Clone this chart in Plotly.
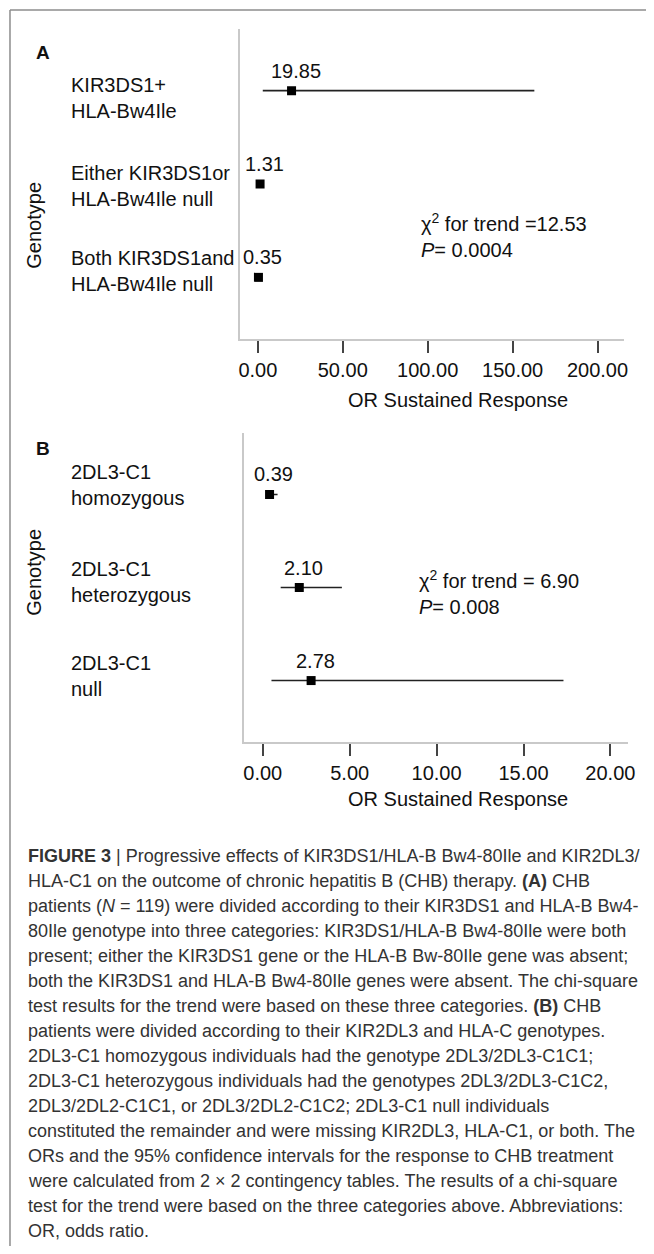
import plotly.graph_objects as go

# ---------------- data ----------------
a_labels = ["KIR3DS1+<br>HLA-Bw4Ile", "Either KIR3DS1or<br>HLA-Bw4Ile null", "Both KIR3DS1and<br>HLA-Bw4Ile null"]
a_or = [19.85, 1.31, 0.35]
a_ci_low = [2.9, 0.6, 0.05]
a_ci_high = [162.8, 2.9, 2.4]
a_tickvals = [0, 50, 100, 150, 200]
a_ticktext = ["0.00", "50.00", "100.00", "150.00", "200.00"]
a_stat = "χ<sup>2</sup> for trend =12.53<br><i>P</i>= 0.0004"

b_labels = ["2DL3-C1<br>homozygous", "2DL3-C1<br>heterozygous", "2DL3-C1<br>null"]
b_or = [0.39, 2.10, 2.78]
b_ci_low = [0.18, 1.03, 0.50]
b_ci_high = [0.85, 4.55, 17.3]
b_tickvals = [0, 5, 10, 15, 20]
b_ticktext = ["0.00", "5.00", "10.00", "15.00", "20.00"]
b_stat = "χ<sup>2</sup> for trend = 6.90<br><i>P</i>= 0.008"

x_title = "OR Sustained Response"
y_title = "Genotype"

caption_lines = [
    "<b>FIGURE 3</b> | Progressive effects of KIR3DS1/HLA-B Bw4-80Ile and KIR2DL3/",
    "HLA-C1 on the outcome of chronic hepatitis B (CHB) therapy. <b>(A)</b> CHB",
    "patients (<i>N</i> = 119) were divided according to their KIR3DS1 and HLA-B Bw4-",
    "80Ile genotype into three categories: KIR3DS1/HLA-B Bw4-80Ile were both",
    "present; either the KIR3DS1 gene or the HLA-B Bw-80Ile gene was absent;",
    "both the KIR3DS1 and HLA-B Bw4-80Ile genes were absent. The chi-square",
    "test results for the trend were based on these three categories. <b>(B)</b> CHB",
    "patients were divided according to their KIR2DL3 and HLA-C genotypes.",
    "2DL3-C1 homozygous individuals had the genotype 2DL3/2DL3-C1C1;",
    "2DL3-C1 heterozygous individuals had the genotypes 2DL3/2DL3-C1C2,",
    "2DL3/2DL2-C1C1, or 2DL3/2DL2-C1C2; 2DL3-C1 null individuals",
    "constituted the remainder and were missing KIR2DL3, HLA-C1, or both. The",
    "ORs and the 95% confidence intervals for the response to CHB treatment",
    "were calculated from 2 × 2 contingency tables. The results of a chi-square",
    "test for the trend were based on the three categories above. Abbreviations:",
    "OR, odds ratio.",
]

# ---------------- layout helpers (page pixels -> paper) ----------------
OFF = 8
FW, FH = 638, 1238


def px(x):
    return (x - OFF) / FW


def py(y):
    return 1 - (y - OFF) / FH


FONT = "Liberation Sans, Arial, sans-serif"
rows = [0, 1, 2]

fig = go.Figure()


def add_panel(xref, yref, ors, lo, hi):
    fig.add_trace(go.Scatter(
        x=ors, y=rows, mode="markers",
        marker=dict(symbol="square", size=9, color="black"),
        error_x=dict(type="data", symmetric=False,
                     array=[h - o for h, o in zip(hi, ors)],
                     arrayminus=[o - l for o, l in zip(ors, lo)],
                     color="#222222", thickness=1.6, width=0),
        xaxis=xref, yaxis=yref, showlegend=False, hoverinfo="skip",
    ))


add_panel("x", "y", a_or, a_ci_low, a_ci_high)
add_panel("x2", "y2", b_or, b_ci_low, b_ci_high)

axis_common = dict(showline=True, linecolor="#c9c9c9", linewidth=2, showgrid=False,
                   zeroline=False, ticks="outside", ticklen=12, tickwidth=1.5,
                   tickcolor="#444444", tickfont=dict(family=FONT, size=20, color="#111111"))
yaxis_common = dict(showline=True, linecolor="#c9c9c9", linewidth=2, showgrid=False,
                    zeroline=False, showticklabels=False, ticks="", range=[2.66, -0.66])

fig.update_layout(
    width=FW, height=FH, margin=dict(l=0, r=0, t=0, b=0),
    paper_bgcolor="white", plot_bgcolor="white",
    xaxis=dict(domain=[px(242), px(631)], range=[-10.47, 215.7],
               tickvals=a_tickvals, ticktext=a_ticktext, anchor="y", **axis_common),
    yaxis=dict(domain=[py(339), py(29)], anchor="x", **yaxis_common),
    xaxis2=dict(domain=[px(246), px(635)], range=[-1.08, 21.02],
                tickvals=b_tickvals, ticktext=b_ticktext, anchor="y2", **axis_common),
    yaxis2=dict(domain=[py(742), py(433)], anchor="x2", **yaxis_common),
)

ann = []


def txt(x, y, s, size=20, xanchor="left", yanchor="middle", **kw):
    ann.append(dict(x=px(x), y=py(y), xref="paper", yref="paper", text=s,
                    showarrow=False, xanchor=xanchor, yanchor=yanchor,
                    font=dict(family=kw.pop("family", FONT), size=size,
                              color=kw.pop("color", "#111111")), **kw))


# panel letters
txt(42, 53, "<b>A</b>", size=19, xanchor="center")
txt(42, 448, "<b>B</b>", size=19, xanchor="center")

# y titles
txt(33, 225, y_title, xanchor="center", textangle=-90)
txt(33, 572, y_title, xanchor="center", textangle=-90)

# x titles
txt(463, 400, x_title, xanchor="center")
txt(463, 799, x_title, xanchor="center")

# category labels
for lab, yc in zip(a_labels, [98, 186, 271]):
    txt(69, yc, lab, align="left")
for lab, yc in zip(b_labels, [485, 582, 676]):
    txt(69, yc, lab, align="left")

# value labels above markers
for xr, yr, vals in (("x", "y", a_or), ("x2", "y2", b_or)):
    for v, r in zip(vals, rows):
        ann.append(dict(x=v, y=r, xref=xr, yref=yr, text=f"{v:.2f}", showarrow=False,
                        xanchor="center", yanchor="middle", yshift=20, xshift=4,
                        font=dict(family=FONT, size=20, color="#111111")))

# statistics
txt(423, 235, a_stat, align="left")
txt(421, 592, b_stat, align="left")

# caption
for i, line in enumerate(caption_lines):
    txt(25, 856 + i * 25.0, line, size=18, color="#333333")

fig.update_layout(annotations=ann)

# frame
fig.add_shape(type="line", xref="paper", yref="paper", x0=px(9), x1=px(9), y0=py(10), y1=py(1254),
              line=dict(color="#8c8c8c", width=1.5))
fig.add_shape(type="line", xref="paper", yref="paper", x0=px(9), x1=px(660), y0=py(10), y1=py(10),
              line=dict(color="#8c8c8c", width=1.5))

fig.write_html("out.html")
